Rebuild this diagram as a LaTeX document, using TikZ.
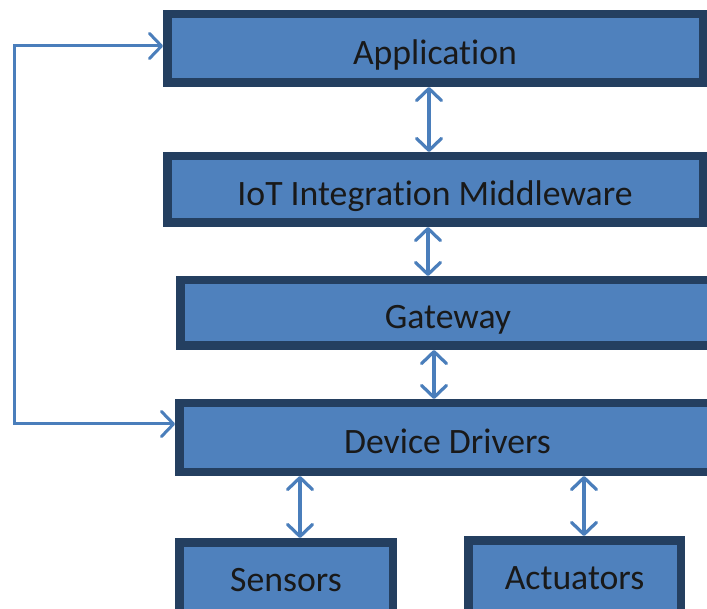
\documentclass[tikz,border=0pt]{standalone}
\usepackage{fontspec}
\setmainfont{Carlito}[Ligatures={NoCommon}]
\usetikzlibrary{arrows.meta}
\definecolor{boxfill}{HTML}{4F81BD}
\definecolor{boxline}{HTML}{243F60}
\definecolor{arrowc}{HTML}{4A7EBB}
\begin{document}
\begin{tikzpicture}[x=1pt,y=-1pt,
  box/.style={draw=boxline, fill=boxfill, line width=8.5pt, inner sep=0pt,
    font=\fontsize{35.7}{40}\selectfont, text=black!90,
    text height=32pt, text depth=0pt},
  lowbox/.style={box, text depth=10pt},
  biarrow/.style={draw=arrowc, line width=3.2pt,
    {Straight Barb[length=12pt,width=25pt,round]}-{Straight Barb[length=12pt,width=25pt,round]}}]
\clip (0,0) rectangle (707,609);
\fill[white] (0,0) rectangle (707,609);
\node[box, minimum width=535.5pt, minimum height=68.5pt] (app) at (435,48.5) {Application};
\node[box, minimum width=535.5pt, minimum height=66.5pt] (iot) at (435,189.5) {IoT Integration Middleware};
\node[box, minimum width=535.5pt, minimum height=65.5pt] (gw) at (448,313) {Gateway};
\node[box, minimum width=536.5pt, minimum height=68.5pt] (dd) at (447.5,437.5) {Device Drivers};
\node[lowbox, minimum width=213.5pt, minimum height=75.5pt] (sen) at (286,580) {Sensors};
\node[lowbox, minimum width=212.5pt, minimum height=75.5pt] (act) at (574.5,578) {Actuators};
% vertical links
\draw[biarrow] ([xshift=-6pt]app.south) -- ([xshift=-6pt]iot.north);
\draw[biarrow] ([xshift=-7pt]iot.south) -- ([xshift=-20pt]gw.north);
\draw[biarrow] ([xshift=-14pt]gw.south) -- ([xshift=-13.5pt]dd.north);
\coordinate (s1) at ([xshift=14pt]sen.north);
\coordinate (a2) at ([xshift=9.5pt]act.north);
\draw[biarrow] (s1 |- dd.south) -- (s1);
\draw[biarrow] (a2 |- dd.south) -- (a2);
% feedback loop
\coordinate (fb) at (14,0);
\coordinate (a1) at ([yshift=2.5pt]app.west);
\coordinate (d1) at ([yshift=13.5pt]dd.west);
\draw[biarrow, line width=3pt, line join=miter] (d1) -- (d1 -| fb) -- (a1 -| fb) -- (a1);
\end{tikzpicture}
\end{document}
